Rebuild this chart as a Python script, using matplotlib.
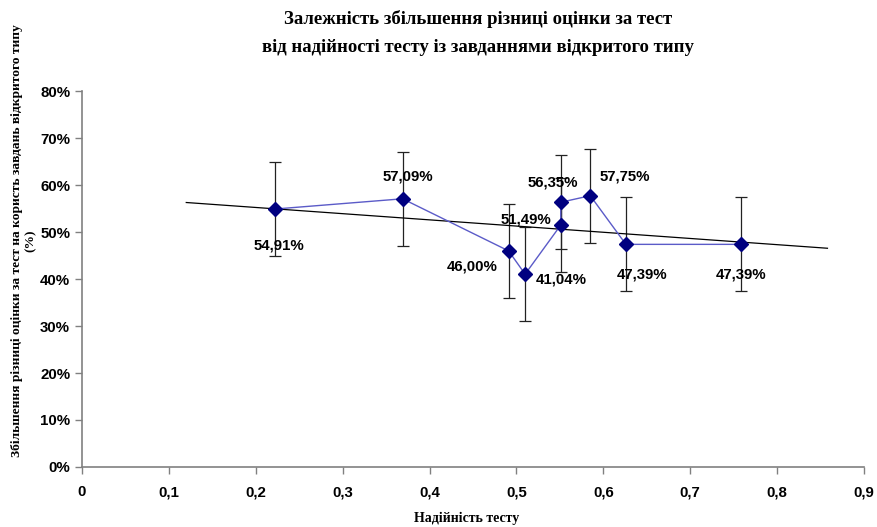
import numpy as np
import matplotlib.pyplot as plt

# дані
reliability = [0.222, 0.369, 0.491, 0.510, 0.551, 0.551, 0.585, 0.626, 0.758]
gain_pct = [54.91, 57.09, 46.00, 41.04, 51.49, 56.35, 57.75, 47.39, 47.39]
err_pct = [10, 10, 10, 10, 10, 10, 10, 10, 10]
# зсув підписів (точки)
label_offsets = [(3, -26), (4, 16), (-26, -11), (26, -4), (-25, 4), (-6, 14.5),
                 (25, 14), (12, -21.5), (0, -21.5)]
trend_range = [0.12, 0.858]

x_ticks = [0, 0.1, 0.2, 0.3, 0.4, 0.5, 0.6, 0.7, 0.8, 0.9]
y_ticks = [0, 10, 20, 30, 40, 50, 60, 70, 80]

serif = 'Liberation Serif'
sans = 'Liberation Sans'

fig = plt.figure(figsize=(8.78, 5.27), dpi=100)
ax = fig.add_axes([0.0934, 0.1139, 0.8906, 0.7131])

ax.errorbar(reliability, gain_pct, yerr=err_pct, fmt='none', ecolor='#222222',
            elinewidth=0.9, capsize=4, capthick=0.9, zorder=2)
ax.plot(reliability, gain_pct, color='#5b5bc8', linewidth=1.0, zorder=3)
ax.plot(reliability, gain_pct, linestyle='none', marker='D', markersize=7,
        color='#000080', zorder=4)

# лінійний тренд
k, b = np.polyfit(reliability, gain_pct, 1)
tx = np.array(trend_range)
ax.plot(tx, k * tx + b, color='black', linewidth=0.9, zorder=2.5)

for xv, yv, off in zip(reliability, gain_pct, label_offsets):
    ax.annotate(f"{yv:.2f}%".replace('.', ','), (xv, yv), xytext=off,
                textcoords='offset points', ha='center', va='center',
                fontsize=10.8, fontweight='bold', family=sans, zorder=5)

ax.set_xlim(0, 0.9)
ax.set_ylim(0, 80)
ax.set_xticks(x_ticks)
ax.set_yticks(y_ticks)
ax.set_xticklabels([f"{v:g}".replace('.', ',') for v in x_ticks])
ax.set_yticklabels([f"{v}%" for v in y_ticks])
for lbl in ax.get_xticklabels() + ax.get_yticklabels():
    lbl.set_fontfamily(sans)
    lbl.set_fontweight('bold')
    lbl.set_fontsize(10.8)

for s in ['top', 'right']:
    ax.spines[s].set_visible(False)
for s in ['left', 'bottom']:
    ax.spines[s].set_color('#808080')
    ax.spines[s].set_linewidth(1.2)
ax.tick_params(axis='both', colors='#808080', labelcolor='black', length=5, width=1)
ax.tick_params(axis='x', pad=8)

fig.text(0.544, 0.964, "Залежність збільшення різниці оцінки за тест",
         ha='center', va='center', family=serif, fontweight='bold', fontsize=13.5)
fig.text(0.544, 0.909, "від надійності тесту із завданнями відкритого типу",
         ha='center', va='center', family=serif, fontweight='bold', fontsize=13.5)
fig.text(0.532, 0.017, "Надійність тесту", ha='center', va='center',
         family=serif, fontweight='bold', fontsize=10)
fig.text(0.027, 0.543, "Збільшення різниці оцінки за тест на користь завдань відкритого типу\n(%)",
         rotation=90, ha='center', va='center', family=serif, fontweight='bold',
         fontsize=9.7)

fig.savefig("out.png", dpi=100)
